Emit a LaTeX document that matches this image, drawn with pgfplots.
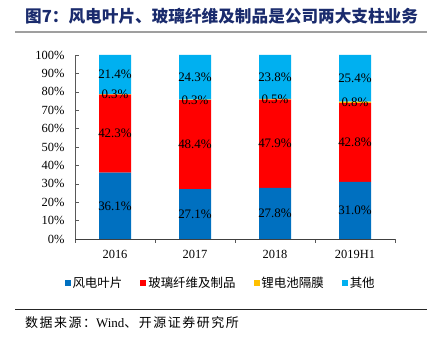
\documentclass[border=0pt]{standalone}
\usepackage{pgfplots}
\pgfplotsset{compat=1.18}
\usepackage{fontspec}
\setmainfont{Liberation Serif}
\newfontfamily\cjk{Noto Sans CJK SC}
\definecolor{cBlue}{HTML}{0070C0}
\definecolor{cRed}{HTML}{FF0000}
\definecolor{cYel}{HTML}{FFC000}
\definecolor{cCyan}{HTML}{00B0F0}
\definecolor{cTitle}{HTML}{1A2B6D}
\pgfplotsset{sqlegend/.style={legend image code/.code={\fill[##1,draw=none] (0bp,-3bp) rectangle (6bp,3bp);}}}
\begin{document}
\begin{tikzpicture}
\path[use as bounding box] (0,0) rectangle (427bp,339bp);
\node[anchor=west,inner sep=0pt,text=cTitle,font=\cjk\bfseries\fontsize{16.7}{18}\selectfont] at (25bp,323bp) {图7：风电叶片、玻璃纤维及制品是公司两大支柱业务};
\draw[line width=2bp,color=gray!75] (15bp,307bp) -- (427bp,307bp);
\draw[line width=1bp,color=black!85] (15bp,29bp) -- (427bp,29bp);
\node[anchor=west,inner sep=0pt,font=\fontsize{13}{14}\selectfont] at (25bp,16bp) {{\cjk\addfontfeature{LetterSpace=12} 数据来源：}Wind{\cjk\addfontfeature{LetterSpace=12} 、开源证券研究所}};
\begin{axis}[
  at={(75bp,100bp)}, anchor=south west,
  scale only axis, width=320bp, height=184.28bp,
  ybar stacked, bar width=32bp,
  xmin=-0.5, xmax=3.5, ymin=0, ymax=100.15,
  xtick={-0.5,0.5,1.5,2.5,3.5},
  x tick label as interval,
  xticklabels={2016,2017,2018,2019H1},
  ytick={0,10,...,100},
  yticklabel={\pgfmathprintnumber{\tick}\%},
  /pgf/number format/assume math mode=true,
  axis lines=left,
  axis line style={-, draw=black!65},
  x axis line style={draw=black!75},
  xtick align=outside, ytick align=inside,
  major tick length=4bp,
  tick style={draw=black!65},
  ticklabel style={font=\fontsize{12.5}{12.5}\selectfont},
  yticklabel style={xshift=-7bp},
  xticklabel style={yshift=-4bp},
  clip=false,
  nodes near coords={\pgfmathprintnumber[fixed,fixed zerofill,precision=1]{\pgfplotspointmeta}\%},
  every node near coord/.append style={anchor=center, font=\fontsize{13}{13}\selectfont, text=black, inner sep=0pt},
  legend columns=4,
  legend style={at={(0.455,-0.239)}, anchor=center, draw=none, fill=none,
    font=\cjk\fontsize{12.5}{13}\selectfont,
    /tikz/every even column/.append style={column sep=16bp}},
]
\addplot[sqlegend, fill=cBlue, draw=none] coordinates {(0,36.1) (1,27.1) (2,27.8) (3,31.0)};
\addplot[sqlegend, fill=cRed, draw=none] coordinates {(0,42.3) (1,48.4) (2,47.9) (3,42.8)};
\addplot[sqlegend, fill=cYel, draw=none] coordinates {(0,0.3) (1,0.3) (2,0.5) (3,0.8)};
\addplot[sqlegend, fill=cCyan, draw=none] coordinates {(0,21.4) (1,24.3) (2,23.8) (3,25.4)};
\legend{风电叶片,玻璃纤维及制品,锂电池隔膜,其他}
\end{axis}
\end{tikzpicture}
\end{document}
